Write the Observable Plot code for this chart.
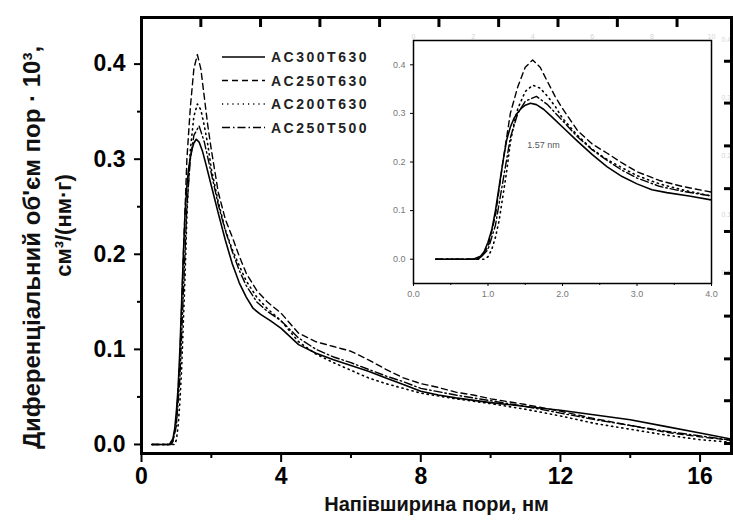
<!DOCTYPE html>
<html><head><meta charset="utf-8">
<script src="https://cdn.jsdelivr.net/npm/d3@7"></script>
<script src="https://cdn.jsdelivr.net/npm/@observablehq/plot@0.6"></script>
<style>
body{margin:0;background:#fff;}
#wrap{position:relative;width:733px;height:526px;overflow:hidden;background:#fff;}
#wrap svg{position:absolute;}
</style></head>
<body><div id="wrap"></div>
<script>
// ---- data ----
const seriesNames = ["AC300T630", "AC250T630", "AC200T630", "AC250T500"];

const ac300t630X = [0.3,0.8,0.9,0.95,1.0,1.05,1.1,1.15,1.2,1.25,1.3,1.35,1.4,1.45,1.5,1.57,1.65,1.75,1.85,2.0,2.2,2.4,2.6,2.8,3.0,3.2,3.4,3.7,4.0,4.5,5.0,5.5,6.0,6.5,7.0,7.5,8.0,8.5,9.0,10,11,12,13,14,15,16,17];
const ac300t630Y = [0,0,0.006,0.016,0.035,0.06,0.1,0.15,0.2,0.245,0.272,0.29,0.302,0.311,0.317,0.321,0.318,0.308,0.294,0.272,0.243,0.215,0.19,0.17,0.155,0.143,0.137,0.13,0.122,0.105,0.096,0.089,0.083,0.077,0.07,0.063,0.056,0.052,0.049,0.044,0.040,0.036,0.031,0.026,0.019,0.012,0.005];

const ac250t630X = [0.3,0.85,0.9,1.0,1.1,1.2,1.3,1.4,1.5,1.6,1.7,1.8,1.9,2.0,2.2,2.4,2.6,2.8,3.0,3.3,3.6,4.0,4.5,5.0,5.5,6.0,6.5,7.0,7.5,8.0,8.5,9.0,9.5,10,11,12,13,14,15,16,17];
const ac250t630Y = [0,0,0.004,0.025,0.09,0.2,0.3,0.355,0.395,0.41,0.395,0.365,0.335,0.31,0.265,0.237,0.218,0.198,0.18,0.162,0.15,0.138,0.117,0.108,0.103,0.098,0.089,0.079,0.07,0.064,0.06,0.055,0.052,0.048,0.042,0.035,0.027,0.02,0.013,0.008,0.004];

const ac200t630X = [0.3,0.95,1.0,1.05,1.1,1.15,1.2,1.25,1.3,1.35,1.4,1.5,1.6,1.7,1.8,1.9,2.0,2.2,2.4,2.6,2.8,3.0,3.3,3.6,4.0,4.5,5.0,5.5,6.0,6.5,7.0,7.5,8.0,9,10,11,12,13,14,15,16,17];
const ac200t630Y = [0,0,0.005,0.02,0.045,0.08,0.13,0.18,0.24,0.28,0.31,0.345,0.358,0.352,0.335,0.315,0.29,0.255,0.226,0.205,0.188,0.172,0.155,0.143,0.13,0.108,0.095,0.086,0.078,0.07,0.064,0.059,0.054,0.048,0.043,0.037,0.030,0.022,0.016,0.010,0.005,0.002];

const ac250t500X = [0.3,0.85,0.9,1.0,1.1,1.2,1.3,1.4,1.5,1.65,1.8,2.0,2.2,2.4,2.6,2.8,3.0,3.3,3.6,4.0,4.5,5,5.5,6,6.5,7,7.5,8,9,10,11,12,13,14,15,16,17];
const ac250t500Y = [0,0,0.003,0.02,0.07,0.16,0.25,0.3,0.325,0.335,0.318,0.285,0.252,0.225,0.203,0.183,0.167,0.15,0.14,0.13,0.112,0.1,0.092,0.086,0.079,0.072,0.066,0.059,0.052,0.046,0.04,0.033,0.026,0.02,0.014,0.009,0.004];

const xTicks = [0, 4, 8, 12, 16];
const xMinorTicks = [2, 6, 10, 14];
const yTicks = [0, 0.1, 0.2, 0.3, 0.4];
const yMinorTicks = [0.05, 0.15, 0.25, 0.35];
const topMirrorTicks = [1.7, 3.41, 5.11, 6.82, 8.52, 10.23, 11.93, 13.63, 15.34];
const rightMirrorTicks = [0.001, 0.046, 0.090, 0.135, 0.180, 0.224, 0.269, 0.314, 0.359, 0.403];

const insetXTicks = [0, 1, 2, 3, 4];
const insetXMinor = [0.5, 1.5, 2.5, 3.5];
const insetYTicks = [0, 0.1, 0.2, 0.3, 0.4];
const insetNote = "1.57 nm";
const ghostTopLabels = [0, 2, 4, 6, 8, 10];
const ghostRightLabels = [0.0, 0.1, 0.2, 0.3, 0.4];

const xTitle = "Напівширина пори, нм";
const yTitle1 = "Диференціальний об'єм пор · 10³,";
const yTitle2 = "см³/(нм·г)";

// ---- build table ----
const seriesX = [ac300t630X, ac250t630X, ac200t630X, ac250t500X];
const seriesY = [ac300t630Y, ac250t630Y, ac200t630Y, ac250t500Y];
const rows = seriesNames.flatMap((s, i) => seriesX[i].map((x, j) => ({series: s, x, y: seriesY[i][j]})));

const dash = {AC300T630: null, AC250T630: "6,4", AC200T630: "1.2,4", AC250T500: "8,3,1.5,3"};
const lineW = {AC300T630: 1.6, AC250T630: 1.4, AC200T630: 1.6, AC250T500: 1.4};
const font = "'Liberation Sans', Arial, sans-serif";

function lines(data) {
  return seriesNames.map(s => Plot.line(data.filter(d => d.series === s), {
    x: "x", y: "y", stroke: "#000", strokeWidth: lineW[s], strokeDasharray: dash[s], clip: true
  }));
}

const W = 733, H = 526;
const mL = 141, mR = 2, mT = 17, mB = 73;
const xDom = [0, 16.9], yDom = [-0.0095, 0.449];
const pxX = (xDom[1] - xDom[0]) / (W - mL - mR);   // data units per pixel
const pxY = (yDom[1] - yDom[0]) / (H - mT - mB);
const frameOpts = {width: W, height: H, marginLeft: mL, marginRight: mR, marginTop: mT, marginBottom: mB};

const main = Plot.plot({
  ...frameOpts,
  style: {background: "transparent", fontFamily: font, color: "#000", overflow: "visible"},
  x: {domain: xDom},
  y: {domain: yDom},
  marks: [
    ...lines(rows),
    Plot.axisY(yTicks, {tickSize: 7, tickPadding: 9, strokeWidth: 2, tickFormat: d3.format(".1f"), fontSize: 23, fontWeight: "bold", label: null}),
    Plot.axisY(yMinorTicks, {tickSize: 4, strokeWidth: 2, text: null, label: null}),
    Plot.axisX(xTicks, {tickSize: 9, tickPadding: 5, strokeWidth: 2, fontSize: 23, fontWeight: "bold", label: null}),
    Plot.axisX(xMinorTicks, {tickSize: 5, strokeWidth: 2, text: null, label: null}),
    Plot.text([xTitle], {frameAnchor: "bottom", dy: 57, fontSize: 20, fontWeight: "bold", fill: "#111"}),
    Plot.text([yTitle1], {frameAnchor: "left", textAnchor: "middle", rotate: -90, dx: -109, dy: 12, fontSize: 24, fontWeight: "bold", fill: "#111"}),
    Plot.text([yTitle2], {frameAnchor: "left", textAnchor: "middle", rotate: -90, dx: -78, dy: -10, fontSize: 22, fontWeight: "bold", fill: "#111"})
  ]
});
main.style.left = "0px"; main.style.top = "0px";

const inset = Plot.plot({
  width: 363, height: 290,
  marginLeft: 43, marginRight: 22, marginTop: 15, marginBottom: 32,
  style: {background: "transparent", fontFamily: font, color: "#666", overflow: "visible"},
  x: {domain: [0, 4]},
  y: {domain: [-0.05, 0.45]},
  marks: [
    ...lines(rows),
    Plot.axisX(insetXTicks, {tickSize: 3, tickPadding: 4, stroke: "#000", fill: "#777", fontSize: 9, tickFormat: d3.format(".1f"), label: null}),
    Plot.axisX(insetXMinor, {tickSize: 2, stroke: "#000", text: null, label: null}),
    Plot.axisY(insetYTicks, {tickSize: 3, tickPadding: 5, stroke: "#000", fill: "#777", fontSize: 9, tickFormat: d3.format(".1f"), label: null}),
    Plot.frame({stroke: "#000", strokeWidth: 1.5}),
    Plot.text([insetNote], {x: 1.745, y: 0.235, fontSize: 9, fill: "#555"}),
    Plot.text(ghostTopLabels, {x: d => d * 0.4, frameAnchor: "top", dy: -6, text: d => String(d), fontSize: 7, fill: "#d4d4d4"}),
    Plot.text(ghostRightLabels, {y: d => d * 1.2 - 0.028, frameAnchor: "right", dx: 10, textAnchor: "start", text: d => d.toFixed(1), fontSize: 7, fill: "#d4d4d4"})
  ]
});
inset.style.left = "370px"; inset.style.top = "25px";

// legend
const legend = d3.create("svg").attr("width", 170).attr("height", 100)
  .style("left", "215px").style("top", "45px").style("overflow", "visible");
seriesNames.forEach((s, i) => {
  const y = 12 + i * 23.5;
  legend.append("line").attr("x1", 7).attr("x2", 50).attr("y1", y).attr("y2", y)
    .attr("stroke", "#000").attr("stroke-width", 1.6).attr("stroke-dasharray", dash[s]);
  legend.append("text").attr("x", 56).attr("y", y).attr("dy", "0.36em")
    .attr("font-family", font).attr("font-size", 14).attr("font-weight", "bold")
    .attr("letter-spacing", "2.5px").attr("fill", "#222").text(s);
});

// frame and mirror ticks on top, same scales as the main plot
const overlay = Plot.plot({
  ...frameOpts,
  style: {background: "transparent", overflow: "visible"},
  x: {domain: xDom, axis: null},
  y: {domain: yDom, axis: null},
  marks: [
    Plot.ruleX(topMirrorTicks, {x: d => d, y1: () => yDom[1], y2: () => yDom[1] - 10 * pxY, stroke: "#000", strokeWidth: 3}),
    Plot.ruleY(rightMirrorTicks, {y: d => d, x1: () => xDom[1], x2: () => xDom[1] - 7 * pxX, stroke: "#000", strokeWidth: 3}),
    Plot.frame({stroke: "#000", strokeWidth: 3})
  ]
});
overlay.style.left = "0px"; overlay.style.top = "0px"; overlay.style.pointerEvents = "none";

const wrap = document.getElementById("wrap");
wrap.append(main, inset, legend.node(), overlay);
</script>
</body></html>
